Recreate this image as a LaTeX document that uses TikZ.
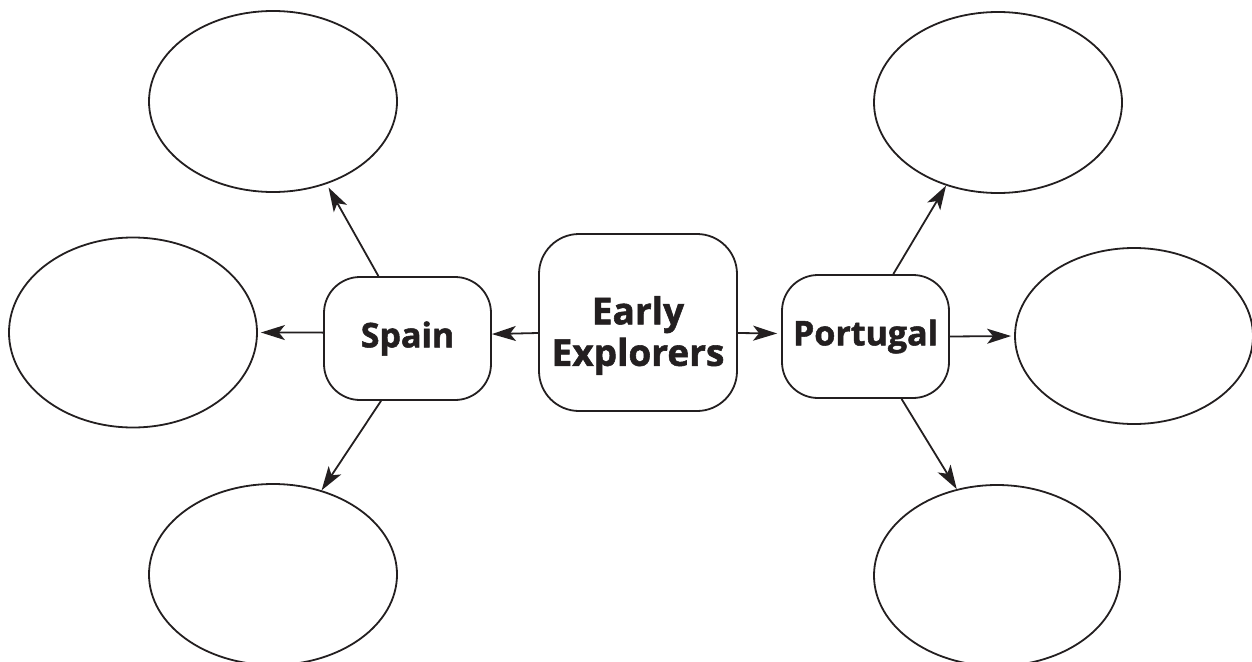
\documentclass[tikz,border=0pt]{standalone}
\usepackage{fontspec}
\setmainfont{Open Sans}[BoldFeatures={FakeBold=1.5}]
\usetikzlibrary{shapes.geometric,arrows.meta}
\definecolor{inkblack}{RGB}{35,31,32}
\tikzset{
  bubble/.style={draw=inkblack, line width=1.8pt, ellipse, inner sep=0pt},
  topicbox/.style={draw=inkblack, line width=1.8pt, rectangle, rounded corners=36pt, inner sep=0pt,
    minimum width=167pt, minimum height=123pt, text=inkblack, font=\bfseries\fontsize{34}{38}\selectfont},
  arr/.style={draw=inkblack, line width=1.8pt, -{Stealth[length=24pt,width=15pt,inset=6pt]}},
}

\begin{document}
\begin{tikzpicture}[x=1pt,y=1pt,yscale=-1,xscale=1]
\useasboundingbox (0,0) rectangle (1252,661);

%Shape: Ellipse (Spain side)
\node[bubble, minimum width=248pt, minimum height=181pt] (spainA) at (273,101.5) {};
\node[bubble, minimum width=248pt, minimum height=190pt] (spainB) at (133,332.5) {};
\node[bubble, minimum width=248pt, minimum height=181pt] (spainC) at (273,574.5) {};
%Shape: Ellipse (Portugal side)
\node[bubble, minimum width=248pt, minimum height=181pt] (portA) at (998,102.5) {};
\node[bubble, minimum width=238pt, minimum height=176pt] (portB) at (1134,336) {};
\node[bubble, minimum width=246pt, minimum height=181pt] (portC) at (997,575.5) {};

%Rounded Rect
\node[topicbox, rounded corners=40pt, minimum width=198pt, minimum height=177pt,
  align=center, font=\bfseries\fontsize{37}{41.6}\selectfont] (ee) at (638,322.5)
  {\rule{0pt}{54pt}Early\\Explorers};
\node[topicbox] (spain) at (407.5,338.5) {Spain};
\node[topicbox] (port) at (865.5,336.5) {Portugal};

%Straight Lines
\draw[arr] (ee.186) -- (spain.3);
\draw[arr, shorten >=4pt] (ee.-6) -- (port.178);
\draw[arr, shorten >=4pt] (spain.115) -- (spainA.-57);
\draw[arr, shorten >=3pt] (spain.176) -- (spainB.0);
\draw[arr] (spain.247) -- (spainC.60);
\draw[arr] (port.66) -- (portA.238);
\draw[arr, shorten >=3pt] (port.east) -- (portB.west);
\draw[arr] (port.-60) -- (portC.115);

\end{tikzpicture}
\end{document}
